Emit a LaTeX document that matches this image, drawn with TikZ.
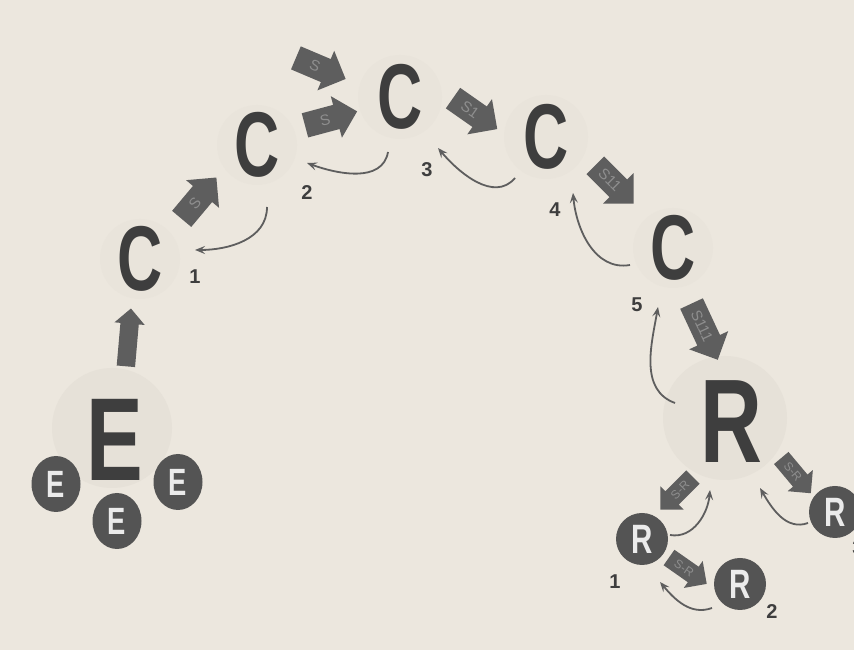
\documentclass[tikz,border=0pt]{standalone}
\usepackage{fontspec}
\usepackage{graphicx}
\setmainfont{Liberation Sans}
\usetikzlibrary{shapes.arrows,shapes.geometric,arrows.meta}
\definecolor{paper}{HTML}{ECE7DE}
\definecolor{ink}{HTML}{3E3E3E}
\definecolor{blockgray}{HTML}{5E5E5E}
\definecolor{labgray}{HTML}{8E8E8E}
\definecolor{discgray}{HTML}{545454}
\definecolor{halo}{HTML}{D9D4CB}
\newcommand{\narrowtxt}[1]{\scalebox{0.72}[1]{#1}}
\tikzset{
  bigC/.style={inner sep=0pt, text=ink, font=\fontsize{92}{92}\selectfont\bfseries, xscale=0.68},
  bigE/.style={inner sep=0pt, text=ink, font=\fontsize{118}{118}\selectfont\bfseries, xscale=0.72},
  bigR/.style={inner sep=0pt, text=ink, font=\fontsize{119}{119}\selectfont\bfseries, xscale=0.72},
  disc/.style={circle, fill=discgray, minimum size=52pt, inner sep=0pt, text=white!92!black},
  discE/.style={ellipse, fill=discgray, minimum width=49pt, minimum height=56pt, inner sep=0pt,
    text=white!92!black, font=\fontsize{38}{38}\selectfont\bfseries},
  discR/.style={disc, font=\fontsize{41}{41}\selectfont\bfseries},
  num/.style={inner sep=0pt, text=ink, font=\fontsize{20}{20}\selectfont\bfseries},
  blockarrow/.style={single arrow, fill=blockgray, draw=none, minimum height=54pt,
    single arrow head extend=9pt, inner xsep=4pt, inner ysep=7pt, text=labgray,
    font=\fontsize{15}{15}\selectfont},
  smallarrow/.style={blockarrow, minimum height=46pt, single arrow head extend=7pt,
    inner ysep=5pt, font=\fontsize{12}{12}\selectfont},
  backarrow/.style={draw=blockgray, line width=1.8pt,
    -{Stealth[length=10pt,width=8pt,inset=4pt]}},
  halobig/.style={fill=halo, opacity=0.3},
  halosmall/.style={fill=halo, opacity=0.15}
}
\begin{document}
\begin{tikzpicture}[x=1pt,y=1pt]
\fill[paper] (0,0) rectangle (854,650);
\useasboundingbox (0,0) rectangle (854,650);
% faint halos
\fill[halobig] (112,222) circle (60);
\fill[halobig] (725,232) circle (62);
\fill[halosmall] (140,391) circle (40);
\fill[halosmall] (257,505) circle (40);
\fill[halosmall] (400,553) circle (42);
\fill[halosmall] (546,513) circle (42);
\fill[halosmall] (673,402) circle (40);
% E cluster
\node[bigE] (E) at (115,210) {E};
\node[discE] (e1) at (56,166) {\narrowtxt{E}};
\node[discE] (e2) at (117,129) {\narrowtxt{E}};
\node[discE] (e3) at (178,168) {\narrowtxt{E}};
\node[blockarrow, rotate=85, minimum height=58pt, inner ysep=9pt, single arrow head extend=6pt] (aE) at (128,308) {};
% C chain
\node[bigC] (c1) at (140,391) {C};
\node[num] (n1) at (195,373) {1};
\node[blockarrow, rotate=50] (a1) at (195,447) {S};
\node[bigC] (c2) at (257,505) {C};
\node[num] (n2) at (307,457) {2};
\node[blockarrow, rotate=-23] (a2u) at (315,584) {S};
\node[blockarrow, rotate=15] (a2l) at (325,530) {S};
\node[bigC] (c3) at (400,553) {C};
\node[num] (n3) at (427,480) {3};
\node[blockarrow, rotate=-35] (a3) at (470,540) {S1};
\node[bigC] (c4) at (546,513) {C};
\node[num] (n4) at (555,440) {4};
\node[blockarrow, rotate=-45] (a4) at (610,470) {S11};
\node[bigC] (c5) at (673,402) {C};
\node[num] (n5) at (637,345) {5};
\node[blockarrow, rotate=-65, minimum height=62pt] (a5) at (702,324) {S111};
% R cluster
\node[bigR] (R) at (731,228) {R};
\node[smallarrow, rotate=45, shape border rotate=180] (ar1) at (680,160) {S-R};
\node[smallarrow, rotate=-50] (ar3) at (793,178) {S-R};
\node[discR] (r1) at (642,111) {\narrowtxt{R}};
\node[num] (m1) at (615,68) {1};
\node[smallarrow, rotate=-35] (ar2) at (684,82) {S-R};
\node[discR] (r2) at (740,66) {\narrowtxt{R}};
\node[num] (m2) at (772,38) {2};
\node[discR] (r3) at (835,138) {\narrowtxt{R}};
\node[num] (m3) at (858,102) {3};
% return curves
\coordinate (s1) at (267,443); \coordinate (t1) at (195,400);
\coordinate (s2) at (388,498); \coordinate (t2) at (307,487);
\coordinate (s3) at (515,472); \coordinate (t3) at (438,502);
\coordinate (s4) at (630,385); \coordinate (t4) at (573,457);
\coordinate (s5) at (675,247); \coordinate (t5) at (658,343);
\coordinate (s6) at (670,115); \coordinate (t6) at (710,160);
\coordinate (s7) at (808,127); \coordinate (t7) at (760,162);
\coordinate (s8) at (712,42);  \coordinate (t8) at (660,68);
\draw[backarrow] (s1) to[out=-90,in=0] (t1);
\draw[backarrow] (s2) to[out=-100,in=-20] (t2);
\draw[backarrow] (s3) to[out=-130,in=-50] (t3);
\draw[backarrow] (s4) to[out=190,in=-85] (t4);
\draw[backarrow] (s5) to[out=160,in=-100] (t5);
\draw[backarrow] (s6) to[out=-10,in=-95] (t6);
\draw[backarrow] (s7) to[out=200,in=-60] (t7);
\draw[backarrow] (s8) to[out=200,in=-50] (t8);
\end{tikzpicture}
\end{document}
